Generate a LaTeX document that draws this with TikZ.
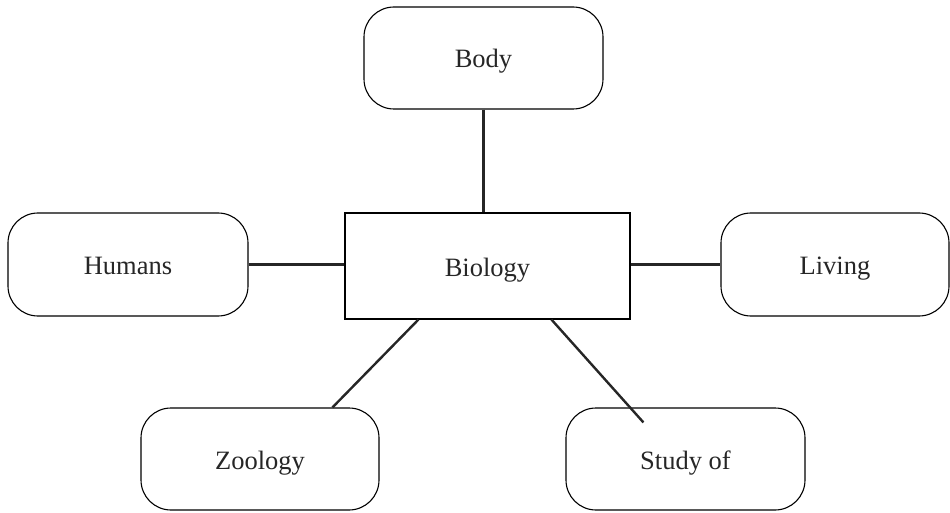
\documentclass[tikz,border=0pt]{standalone}
\usepackage{fontspec}
\setmainfont{Liberation Serif}
\usetikzlibrary{calc}
\begin{document}
\begin{tikzpicture}[x=1pt,y=1pt,
  roundbox/.style={draw, line width=1.1pt, rounded corners=30pt, inner sep=0pt, text height=24pt, text depth=4pt, font=\fontsize{26.5}{30}\selectfont, text=black!85},
  centerbox/.style={draw, line width=1.1pt, inner sep=0pt, text height=24pt, text depth=4pt, font=\fontsize{26.5}{30}\selectfont, text=black!85},
  link/.style={line width=2.4pt, draw=black!85}]
\useasboundingbox (0,0) rectangle (950,512);
\node[roundbox, minimum width=239pt, minimum height=102pt] (body) at (483.5,454) {Body};
\node[roundbox, minimum width=240pt, minimum height=103pt] (humans) at (128,247.5) {Humans};
\node[centerbox, minimum width=285pt, minimum height=106pt] (biology) at (487.5,246) {Biology};
\node[roundbox, minimum width=228pt, minimum height=103pt] (living) at (835,247.5) {Living};
\node[roundbox, minimum width=238pt, minimum height=102pt] (zoology) at (260,53) {Zoology};
\node[roundbox, minimum width=239pt, minimum height=102pt] (study) at (685.5,53) {Study of};
\coordinate (studyend) at ($(study.north west)+(78,-15)$);
\draw[link] (body.south) -- (body.south |- biology.north);
\draw[link] (humans.east) -- (biology.west |- humans.east);
\draw[link] (biology.east |- living.west) -- (living.west);
\draw[link] ($(biology.south west)+(74,0)$) -- ($(zoology.north west)+(192,0)$);
\draw[link] ($(biology.south west)+(207,0)$) -- (studyend);
\end{tikzpicture}
\end{document}
